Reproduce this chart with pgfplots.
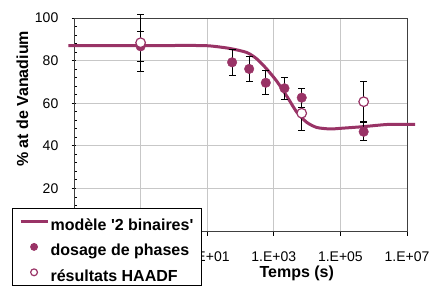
\documentclass[border=0pt]{standalone}
\usepackage{pgfplots}
\pgfplotsset{compat=1.18}
\usepackage{fontspec}
\setmainfont{Liberation Sans}
\definecolor{plum}{HTML}{993366}
\pgfplotsset{
  legline/.style={legend image code/.code={\draw[##1] (0pt,0pt) -- (27pt,0pt);}},
  legmark/.style={legend image code/.code={\draw[##1, mark size=3.4pt] plot coordinates {(13.5pt,0pt)};}},
}
\begin{document}
\begin{tikzpicture}
\path[use as bounding box] (0pt,0pt) rectangle (430pt,285pt);
\clip (0pt,0pt) rectangle (430pt,285pt);
\begin{axis}[
  at={(74pt,54pt)}, anchor=south west,
  scale only axis, width=333pt, height=213pt,
  xmode=log, xmin=1e-3, xmax=1e7, ymin=0, ymax=100,
  clip=false,
  xtick={1e-3,1e-1,1e1,1e3,1e5,1e7},
  xticklabels={1.E-03,1.E-01,1.E+01,1.E+03,1.E+05,1.E+07},
  ytick={0,20,40,60,80,100},
  minor y tick num=4,
  tick pos=left,
  grid=major, major grid style={black!22, line width=0.8pt},
  axis line style={black!75, line width=1pt},
  tick align=outside,
  major tick length=4.5pt, minor tick length=3pt,
  tick style={black, line width=0.8pt},
  major y tick style={xshift=2pt},
  minor y tick style={xshift=3pt},
  /pgf/number format/assume math mode=true,
  ticklabel style={font=\fontsize{14}{16}\selectfont},
  xticklabel style={anchor=base, yshift=-26pt},
  yticklabel style={anchor=east, inner xsep=0pt, xshift=-11pt},
  xlabel={Temps (s)}, ylabel={\% at de Vanadium},
  label style={font=\fontsize{16}{19}\selectfont\bfseries},
  xlabel style={at={(axis description cs:0.669,-0.219)}, anchor=base},
  ylabel style={at={(axis description cs:-0.138,0.62)}, anchor=base},
  legend style={at={(axis description cs:-0.186,0.108)}, anchor=north west,
    draw=black, line width=1pt, fill=white,
    font=\fontsize{16}{19}\selectfont\bfseries,
    inner xsep=6.5pt, inner ysep=0.5pt, row sep=0.4pt,
    nodes={inner xsep=1.5pt, inner ysep=1.5pt, text height=20pt, text depth=2pt}},
  legend cell align=left,
  error bars/error bar style={black, line width=1pt},
  error bars/error mark options={black, line width=1pt, mark size=3.4pt, rotate=90},
]
\addplot[plum, line width=3pt, smooth, tension=0.4, legline]
  coordinates {
  (6.8e-4,87.0) (1e-2,87.0) (3.16,87.1) (12,86.9) (47.9,85.7) (155,83.8)
  (309,80.8) (617,76.0) (1230,70.3) (2455,63.3) (4898,55.8) (9772,51.0)
  (19498,48.6) (48978,47.9) (1e5,48.2) (4.9e5,49.0) (2.45e6,50.0)
  (9.77e6,50.1) (1.74e7,50.1)};
\addlegendentry{mod\`ele \textquotesingle2 binaires\textquotesingle}
\addplot[only marks, mark=*, mark size=4.8pt, mark options={plum, fill=plum}, legmark,
  error bars/.cd, y dir=both, y explicit]
  coordinates {
  (0.1,86.7) +- (0,6.9)
  (56,79.2) +- (0,6.2)
  (182,76.1) +- (0,6.0)
  (575,69.6) +- (0,5.7)
  (2090,67.0) +- (0,5.3)
  (6900,62.6) +- (0,4.4)
  (5.0e5,46.6) +- (0,4.2)};
\addlegendentry{dosage de phases}
\addplot[only marks, mark=*, mark size=4.8pt, mark options={plum, fill=white, line width=1.2pt}, legmark,
  error bars/.cd, y dir=both, y explicit]
  coordinates {
  (0.1,88.4) +- (0,13.3)
  (6900,55.3) +- (0,8.2)
  (5.0e5,60.7) +- (0,9.5)};
\addlegendentry{r\'esultats HAADF}
\end{axis}
\end{tikzpicture}
\end{document}
